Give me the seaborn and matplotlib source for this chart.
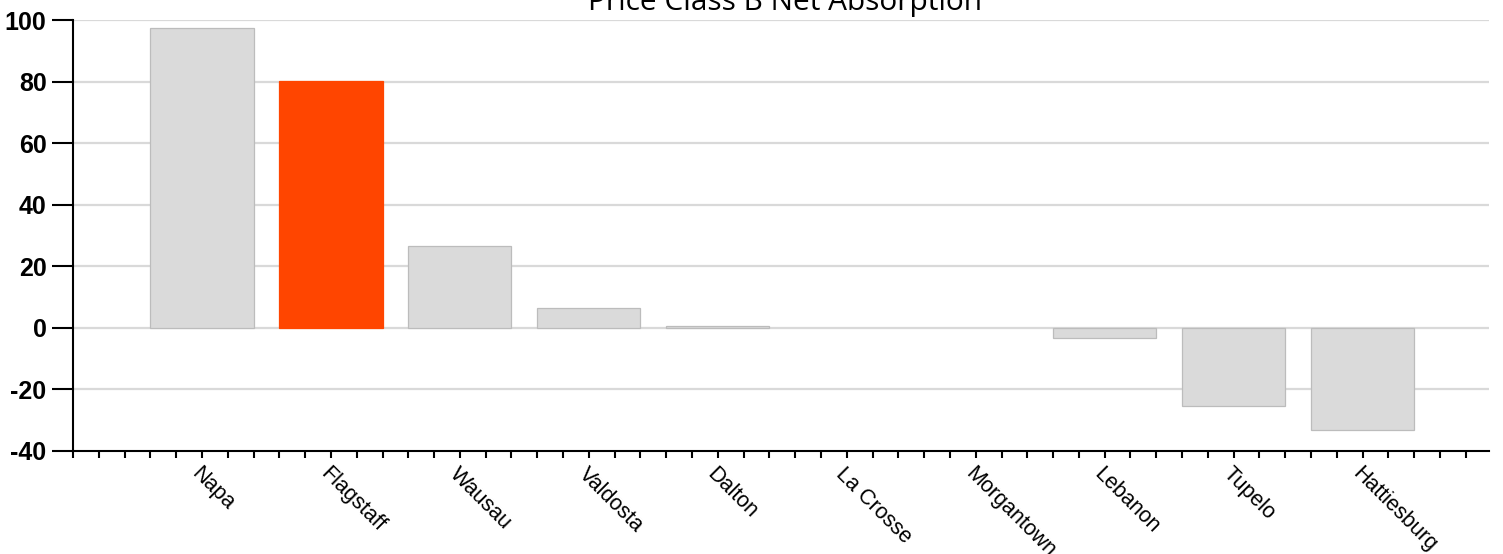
import matplotlib
matplotlib.use("Agg")
import matplotlib.pyplot as plt
import seaborn as sns
import numpy as np
from matplotlib.ticker import FixedLocator

cities = ["Napa", "Flagstaff", "Wausau", "Valdosta", "Dalton", "La Crosse",
          "Morgantown", "Lebanon", "Tupelo", "Hattiesburg"]
values = [97.4, 80.1, 26.7, 6.5, 0.6, 0.0, 0.0, -3.4, -25.4, -33.2]
highlight = "Flagstaff"
title = "Price Class B Net Absorption"
y_ticks = [-40, -20, 0, 20, 40, 60, 80, 100]

sns.set_style("white")
plt.rcParams['font.family'] = ['Liberation Sans', 'DejaVu Sans']
plt.rcParams['text.color'] = 'black'
plt.rcParams['xtick.color'] = 'black'
plt.rcParams['ytick.color'] = 'black'

W, H = 1503, 554
fig = plt.figure(figsize=(W / 100, H / 100), dpi=100)
ax = fig.add_axes([73 / W, 1 - 451 / H, (1489 - 73) / W, (451 - 20) / H])

palette = {c: ("#ff4500" if c == highlight else "#dadada") for c in cities}

sns.barplot(x=cities, y=values, hue=cities, palette=palette, legend=False,
            width=0.8, ax=ax, linewidth=0.9, saturation=1, zorder=3)
for patch, c, v in zip(ax.patches, cities, values):
    if v == 0:
        patch.set_linewidth(0)
    patch.set_edgecolor("#ff4500" if c == highlight else "#bcbcbc")

ax.set_xlim(-1, 9.98)
ax.set_ylim(-40, 100)
ax.set_yticks(y_ticks)
ax.set_yticklabels([str(v) for v in y_ticks], fontsize=18, fontweight='bold',
                   color='black')
for v in y_ticks:
    if v != -40:
        ax.axhline(v, color="#d9d9d9", lw=1.6, zorder=1)

ax.set_xticks(range(len(cities)))
ax.set_xticklabels(cities, rotation=-45, ha='left', va='top',
                   rotation_mode='anchor', fontsize=15.5, color='black')
ax.xaxis.set_minor_locator(FixedLocator(np.arange(-1, 10.0, 0.2)))
ax.tick_params(axis='x', which='both', direction='out', length=5, width=1.5,
               color='black', bottom=True, pad=4)
ax.tick_params(axis='y', which='major', direction='out', length=15, width=1.5,
               color='black', left=True, pad=4)

for s in ["top", "right"]:
    ax.spines[s].set_visible(False)
for s in ["left", "bottom"]:
    ax.spines[s].set_color("black")
    ax.spines[s].set_linewidth(1.5)
ax.set_xlabel("")
ax.set_ylabel("")

fig.text(785 / W, 1 - 10 / H, title, ha='center', va='baseline',
         fontsize=21.5, color='black', family=['Open Sans', 'DejaVu Sans'])

fig.savefig("out.png", dpi=100)
